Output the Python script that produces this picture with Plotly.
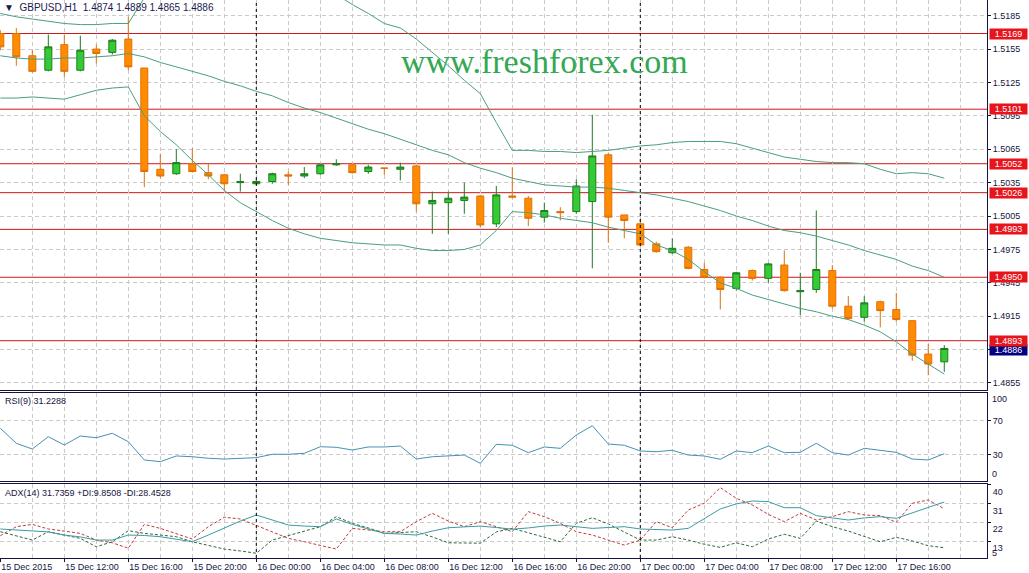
import plotly.graph_objects as go

# ---- data (bar 0 = 15 Dec 2015 08:00) ----
bars = list(range(60))

opens = [1.5169, 1.5169, 1.5149, 1.5136, 1.5159, 1.5136, 1.5155, 1.5152, 1.5164, 1.5138,
         1.5047, 1.5043, 1.5052, 1.5044, 1.5042, 1.5035, 1.5034, 1.5036, 1.5042, 1.5041,
         1.5043, 1.5051, 1.5051, 1.5045, 1.5048, 1.5047, 1.5050, 1.5016, 1.5017, 1.5019,
         1.5023, 1.4998, 1.5023, 1.5021, 1.5004, 1.5009, 1.5009, 1.5018, 1.5060, 1.5006,
         1.4998, 1.4980, 1.4972, 1.4977, 1.4957, 1.4950, 1.4940, 1.4956, 1.4949, 1.4961,
         1.4937, 1.4939, 1.4956, 1.4924, 1.4914, 1.4928, 1.4921, 1.4911, 1.4881, 1.4874]
highs = [1.5172, 1.5174, 1.5154, 1.5168, 1.5168, 1.5167, 1.5159, 1.5164, 1.5184, 1.5138,
         1.5061, 1.5065, 1.5066, 1.5052, 1.5043, 1.5043, 1.5038, 1.5044, 1.5045, 1.5049,
         1.5052, 1.5056, 1.5052, 1.5051, 1.5048, 1.5053, 1.5051, 1.5027, 1.5027, 1.5035,
         1.5024, 1.5032, 1.5049, 1.5023, 1.5017, 1.5013, 1.5038, 1.5096, 1.5062, 1.5006,
         1.5002, 1.4982, 1.4985, 1.4978, 1.4963, 1.4951, 1.4955, 1.4957, 1.4963, 1.4974,
         1.4954, 1.5010, 1.4961, 1.4933, 1.4933, 1.4929, 1.4936, 1.4911, 1.4890, 1.4889]
lows = [1.5154, 1.5140, 1.5134, 1.5135, 1.5130, 1.5135, 1.5142, 1.5150, 1.5136, 1.5031,
        1.5039, 1.5042, 1.5044, 1.5038, 1.5028, 1.5027, 1.5033, 1.5034, 1.5033, 1.5039,
        1.5042, 1.5050, 1.5043, 1.5043, 1.5042, 1.5037, 1.5009, 1.4989, 1.4989, 1.5007,
        1.4995, 1.4995, 1.5021, 1.4996, 1.4999, 1.5001, 1.5007, 1.4958, 1.4981, 1.4985,
        1.4978, 1.4972, 1.4971, 1.4957, 1.4949, 1.4921, 1.4938, 1.4947, 1.4945, 1.4937,
        1.4916, 1.4936, 1.4922, 1.4912, 1.4910, 1.4905, 1.4910, 1.4875, 1.4862, 1.4865]
closes = [1.5157, 1.5148, 1.5135, 1.5157, 1.5135, 1.5154, 1.5151, 1.5163, 1.5139, 1.5045,
          1.5041, 1.5053, 1.5045, 1.5041, 1.5034, 1.5036, 1.5036, 1.5043, 1.5041, 1.5043,
          1.5051, 1.5052, 1.5044, 1.5049, 1.5048, 1.5049, 1.5016, 1.5019, 1.5021, 1.5022,
          1.4997, 1.5024, 1.5022, 1.5003, 1.5010, 1.5008, 1.5032, 1.5059, 1.5004, 1.5001,
          1.4979, 1.4973, 1.4976, 1.4958, 1.4950, 1.4939, 1.4954, 1.4949, 1.4962, 1.4938,
          1.4938, 1.4957, 1.4924, 1.4913, 1.4927, 1.4920, 1.4912, 1.4880, 1.4872, 1.4886]

bb_upper = [1.5187, 1.5184, 1.5182, 1.5180, 1.5178, 1.5177, 1.5177, 1.5178, 1.5178, 1.5201,
            1.5205, 1.5210, 1.5215, 1.5220, 1.5224, 1.5227, 1.5226, 1.5224, 1.5221, 1.5215,
            1.5210, 1.5204, 1.5195, 1.5187, 1.5178, 1.5174, 1.5164, 1.5152, 1.5140, 1.5127,
            1.5115, 1.5089, 1.5064, 1.5064, 1.5063, 1.5063, 1.5062, 1.5063, 1.5064, 1.5066,
            1.5068, 1.5069, 1.5071, 1.5072, 1.5072, 1.5072, 1.5070, 1.5066, 1.5062, 1.5058,
            1.5056, 1.5054, 1.5053, 1.5053, 1.5052, 1.5047, 1.5043, 1.5044, 1.5043, 1.5039]
bb_mid = [1.5149, 1.5147, 1.5146, 1.5146, 1.5147, 1.5147, 1.5148, 1.5149, 1.5151, 1.5148,
          1.5143, 1.5139, 1.5135, 1.5131, 1.5126, 1.5122, 1.5117, 1.5113, 1.5107, 1.5102,
          1.5098, 1.5093, 1.5088, 1.5083, 1.5079, 1.5074, 1.5069, 1.5064, 1.5060, 1.5053,
          1.5048, 1.5044, 1.5039, 1.5036, 1.5033, 1.5032, 1.5031, 1.5031, 1.5030, 1.5028,
          1.5026, 1.5024, 1.5021, 1.5018, 1.5014, 1.5010, 1.5005, 1.5001, 1.4996, 1.4992,
          1.4990, 1.4987, 1.4983, 1.4979, 1.4974, 1.4970, 1.4966, 1.4960, 1.4956, 1.4950]
bb_lower = [1.5111, 1.5111, 1.5112, 1.5111, 1.5110, 1.5114, 1.5118, 1.5120, 1.5121, 1.5095,
            1.5081, 1.5069, 1.5055, 1.5042, 1.5028, 1.5017, 1.5009, 1.5001, 1.4994, 1.4989,
            1.4985, 1.4983, 1.4981, 1.4980, 1.4979, 1.4979, 1.4976, 1.4974, 1.4974, 1.4975,
            1.4979, 1.4992, 1.5009, 1.5008, 1.5006, 1.5003, 1.5001, 1.4999, 1.4995, 1.4992,
            1.4989, 1.4979, 1.4974, 1.4966, 1.4955, 1.4945, 1.4940, 1.4934, 1.4930, 1.4926,
            1.4922, 1.4919, 1.4915, 1.4912, 1.4907, 1.4901, 1.4892, 1.4881, 1.4872, 1.4863]

rsi = [61.1, 43.4, 36.7, 51.2, 41.4, 52.0, 50.0, 55.2, 45.3, 23.8,
       21.8, 28.5, 27.6, 25.8, 24.9, 25.8, 26.5, 30.5, 30.5, 31.6,
       39.4, 38.7, 35.5, 39.1, 39.1, 40.2, 24.9, 27.6, 28.5, 29.6,
       19.9, 42.2, 41.1, 32.4, 39.1, 37.5, 53.2, 64.1, 42.6, 41.1,
       34.4, 33.5, 35.2, 29.6, 28.5, 24.6, 34.4, 32.4, 40.2, 32.4,
       32.8, 43.4, 32.4, 29.6, 37.5, 35.5, 32.8, 24.9, 23.8, 31.2288]

adx = [18.8, 18.3, 18.0, 17.4, 15.9, 15.0, 13.5, 13.5, 15.9, 15.7,
       15.1, 14.0, 12.7, 15.9, 19.4, 22.6, 25.5, 23.1, 20.7, 20.2,
       19.9, 23.6, 21.0, 18.8, 16.7, 16.4, 15.9, 17.8, 19.4, 19.8,
       20.2, 19.5, 18.7, 19.3, 20.2, 20.7, 20.0, 19.1, 19.5, 19.9,
       18.8, 18.6, 18.3, 19.1, 23.6, 28.4, 30.8, 32.2, 31.9, 29.0,
       29.0, 25.2, 24.1, 23.1, 24.1, 24.7, 23.9, 26.5, 29.2, 31.7359]
plus_di = [17.5, 15.4, 13.5, 17.5, 15.9, 14.3, 10.3, 12.7, 18.0, 16.7,
           15.9, 15.1, 12.7, 11.1, 9.2, 8.3, 7.2, 13.5, 15.6, 17.8,
           19.9, 24.7, 21.5, 19.3, 16.7, 17.1, 17.5, 15.0, 12.2, 12.1,
           12.0, 17.4, 19.1, 17.0, 15.0, 12.7, 21.5, 24.2, 21.2, 17.5,
           13.5, 13.5, 15.1, 13.5, 11.5, 10.0, 12.2, 10.3, 14.0, 16.3,
           14.3, 22.6, 19.9, 17.8, 15.1, 12.7, 14.8, 13.1, 10.8, 9.8508]
minus_di = [15.6, 19.9, 21.0, 18.8, 17.8, 16.7, 13.5, 12.2, 9.6, 21.0,
            19.1, 16.6, 14.0, 19.9, 24.4, 23.6, 20.4, 17.5, 14.3, 12.7,
            11.1, 9.2, 19.1, 18.3, 17.5, 17.5, 22.3, 26.3, 22.6, 19.9,
            22.3, 19.9, 17.5, 27.1, 24.7, 21.5, 17.5, 15.9, 13.5, 11.1,
            13.5, 22.3, 19.4, 27.9, 31.1, 38.6, 33.5, 30.3, 25.8, 22.3,
            26.3, 23.1, 24.7, 27.1, 25.5, 25.2, 22.0, 31.1, 32.7, 28.4528]

levels = [1.5169, 1.5101, 1.5052, 1.5026, 1.4993, 1.4950, 1.4893]
last_price = 1.4886

label_bars = [0, 4, 8, 12, 16, 20, 24, 28, 32, 36, 40, 44, 48, 52, 56]
label_text = ['15 Dec 2015', '15 Dec 12:00', '15 Dec 16:00', '15 Dec 20:00',
              '16 Dec 00:00', '16 Dec 04:00', '16 Dec 08:00', '16 Dec 12:00',
              '16 Dec 16:00', '16 Dec 20:00', '17 Dec 00:00', '17 Dec 04:00',
              '17 Dec 08:00', '17 Dec 12:00', '17 Dec 16:00']
separator_bars = [16, 40]
rsi_ticks = [70, 30]
adx_ticks = [40, 31, 22, 13]

# ---- styling ----
FONT = 'Liberation Sans'
NAVY = '#14143c'
GRID = '#cacaca'
BB = '#4a9e80'
W, H = 1029, 573
PLOT_W = 987


def px_y(p):
    """pixel row -> paper fraction"""
    return 1 - p / H


fig = go.Figure()

fig.add_trace(go.Candlestick(
    x=bars, open=opens, high=highs, low=lows, close=closes,
    increasing=dict(line=dict(color='#1f7a1f', width=1), fillcolor='#33cc33'),
    decreasing=dict(line=dict(color='#e0700a', width=1), fillcolor='#ff8c00'),
    whiskerwidth=0, xaxis='x', yaxis='y',
))
for band in (bb_upper, bb_mid, bb_lower):
    fig.add_trace(go.Scatter(x=bars, y=band, mode='lines',
                             line=dict(color=BB, width=1), xaxis='x', yaxis='y'))

fig.add_trace(go.Scatter(x=bars, y=rsi, mode='lines',
                         line=dict(color='#4592b0', width=1), xaxis='x2', yaxis='y2'))

fig.add_trace(go.Scatter(x=bars, y=minus_di, mode='lines',
                         line=dict(color='#c43a3a', width=1, dash='3px,2px'),
                         xaxis='x3', yaxis='y3'))
fig.add_trace(go.Scatter(x=bars, y=plus_di, mode='lines',
                         line=dict(color='#2c6a38', width=1, dash='3px,2px'),
                         xaxis='x3', yaxis='y3'))
fig.add_trace(go.Scatter(x=bars, y=adx, mode='lines',
                         line=dict(color='#3c9aa2', width=1), xaxis='x3', yaxis='y3'))

xcommon = dict(
    range=[-0.02, 61.67], zeroline=False, automargin=False,
    tickvals=label_bars, showgrid=True, gridcolor=GRID, griddash='4px,3px',
    minor=dict(tickmode='linear', tick0=0, dtick=2, showgrid=True,
               gridcolor=GRID, griddash='4px,3px'),
    showline=True, linecolor=NAVY, linewidth=1,
    rangeslider=dict(visible=False),
)
ycommon = dict(
    side='right', zeroline=False, automargin=False,
    showgrid=True, gridcolor=GRID, griddash='4px,3px',
    ticks='outside', ticklen=3, tickcolor=NAVY,
    showline=True, linecolor=NAVY, linewidth=1,
    tickfont=dict(family=FONT, size=9, color=NAVY),
)

fig.update_layout(
    width=W, height=H,
    margin=dict(l=0, r=W - PLOT_W, t=0, b=0),
    paper_bgcolor='white', plot_bgcolor='white',
    showlegend=False, boxgap=0.375,
    xaxis=dict(**xcommon, domain=[0, 1], anchor='y', showticklabels=False, ticks=''),
    xaxis2=dict(**xcommon, domain=[0, 1], anchor='y2', showticklabels=False,
                ticks='', mirror=True),
    xaxis3=dict(**xcommon, domain=[0, 1], anchor='y3', ticktext=label_text,
                ticks='outside', ticklen=3, tickcolor=NAVY, mirror=True,
                ticklabelposition='outside right',
                tickfont=dict(family=FONT, size=9, color=NAVY)),
    yaxis=dict(**ycommon, domain=[px_y(390), 1], anchor='x',
               range=[1.48487, 1.51991], tick0=1.4855, dtick=0.003, tickformat='.4f'),
    yaxis2=dict(**ycommon, domain=[px_y(481), px_y(393)], anchor='x2',
                range=[-0.94, 102.6], tickvals=rsi_ticks),
    yaxis3=dict(**ycommon, domain=[px_y(558), px_y(484)], anchor='x3',
                range=[4.92, 40.33], tickvals=adx_ticks, ticklabelshift=7),
)

# support / resistance levels and their price tags
fig.add_annotation(xref='paper', x=(PLOT_W + 2) / PLOT_W, yref='y', y=last_price,
                   yshift=-2, text=f'{last_price:.4f}', showarrow=False,
                   xanchor='left', yanchor='middle',
                   width=36, height=9, borderpad=0.5, bgcolor='#000080',
                   font=dict(family=FONT, size=9, color='white'))
for lv in levels:
    fig.add_shape(type='line', xref='x domain', x0=0, x1=1, yref='y', y0=lv, y1=lv,
                  line=dict(color='#d01818', width=1), layer='below')
    fig.add_annotation(xref='paper', x=(PLOT_W + 2) / PLOT_W, yref='y', y=lv,
                       text=f'{lv:.4f}', showarrow=False, xanchor='left', yanchor='middle',
                       width=36, height=9, borderpad=0.5, bgcolor='#e8141c',
                       font=dict(family=FONT, size=9, color='white'))

# day separators
for b in separator_bars:
    fig.add_shape(type='line', xref='x', x0=b, x1=b, yref='paper', y0=px_y(558), y1=1,
                  line=dict(color='black', width=1, dash='3px,3px'), layer='above')

# texts
nb = '\u00a0'
fig.add_annotation(xref='paper', x=2 / PLOT_W, yref='paper', y=px_y(8),
                   text=f'▼{nb}{nb}GBPUSD,H1{nb}{nb}1.4874 1.4889 1.4865 1.4886',
                   showarrow=False, xanchor='left', yanchor='middle',
                   font=dict(family=FONT, size=10, color='#1a1a50'))
fig.add_annotation(xref='paper', x=544 / PLOT_W, yref='paper', y=px_y(62),
                   text='www.freshforex.com', showarrow=False,
                   xanchor='center', yanchor='middle',
                   font=dict(family='Liberation Serif', size=34, color='#33a852'))
fig.add_annotation(xref='paper', x=3 / PLOT_W, yref='paper', y=px_y(401),
                   text='RSI(9) 31.2288', showarrow=False, xanchor='left', yanchor='middle',
                   font=dict(family=FONT, size=9, color=NAVY))
fig.add_annotation(xref='paper', x=3 / PLOT_W, yref='paper', y=px_y(493),
                   text='ADX(14) 31.7359 +DI:9.8508 -DI:28.4528', showarrow=False,
                   xanchor='left', yanchor='middle',
                   font=dict(family=FONT, size=9, color=NAVY))
for txt, row in (('100', 399), ('0', 474), ('5', 553)):
    fig.add_annotation(xref='paper', x=(PLOT_W + 3) / PLOT_W, yref='paper', y=px_y(row),
                       text=txt, showarrow=False, xanchor='left', yanchor='middle',
                       font=dict(family=FONT, size=9, color=NAVY))

# the page's default 8px body margin would push the fixed-size chart off the window
fig.write_html('out.html', config={'displayModeBar': False},
               post_script="document.body.style.margin = '0px';")
